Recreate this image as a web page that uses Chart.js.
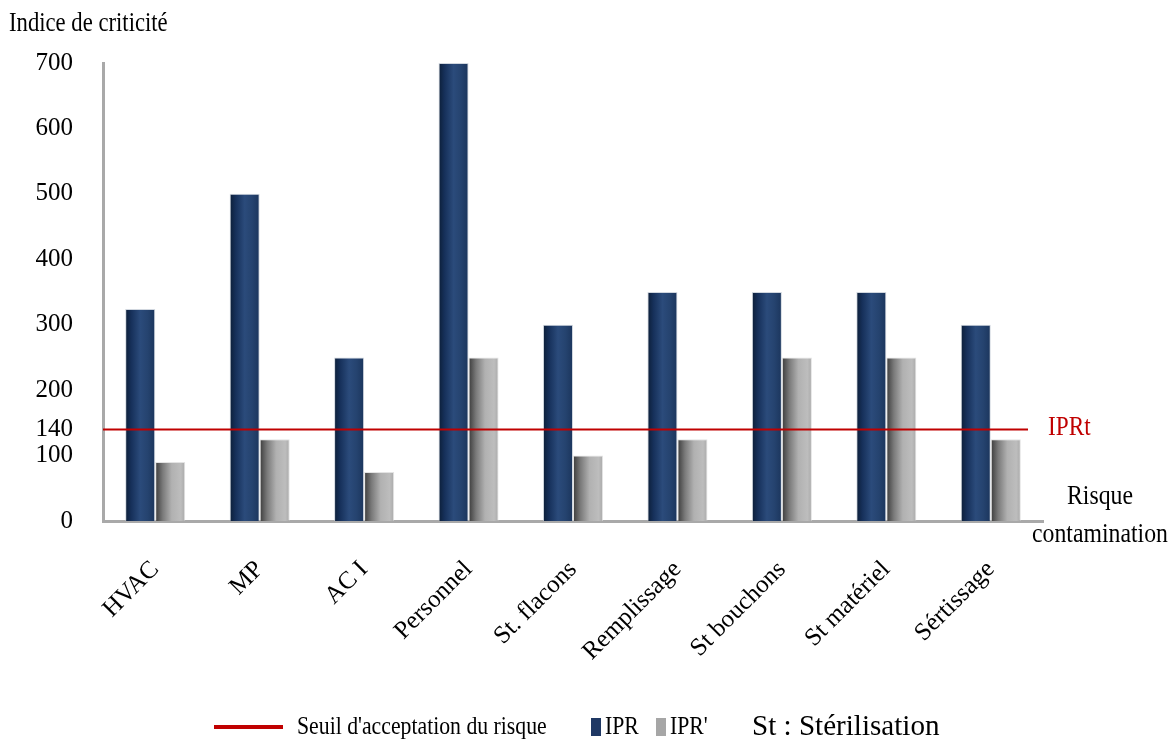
<!DOCTYPE html>
<html>
<head>
<meta charset="utf-8">
<script src="https://cdn.jsdelivr.net/npm/chart.js@4/dist/chart.umd.min.js"></script>
<style>
    html, body { margin: 0; padding: 0; background: #fff; }
    #wrap { width: 1176px; height: 742px; }
</style>
</head>
<body>
<div id="wrap"><canvas id="chart" width="1176" height="742"></canvas></div>
<script>
const categories = ['HVAC', 'MP', 'AC I', 'Personnel', 'St. flacons', 'Remplissage', 'St bouchons', 'St matériel', 'Sértissage'];
const iprValues = [324, 500, 250, 700, 300, 350, 350, 350, 300];
const iprPrimeValues = [90, 125, 75, 250, 100, 125, 250, 250, 125];
const yTicks = [0, 100, 140, 200, 300, 400, 500, 600, 700];
const threshold = 140;

const serif = '"Liberation Serif", "Times New Roman", serif';
const catPct = 0.575;

// horizontal shading across each bar, like the cylinders of the original
function barGradient(context, stops) {
    const chart = context.chart;
    const xs = chart.scales.x;
    if (!xs || context.dataIndex === undefined || !chart.chartArea) return stops[stops.length - 1][1];
    const barW = (xs.width / categories.length) * catPct / 2;
    const left = xs.getPixelForValue(context.dataIndex) - barW + context.datasetIndex * barW;
    const g = chart.ctx.createLinearGradient(left, 0, left + barW, 0);
    stops.forEach(s => g.addColorStop(s[0], s[1]));
    return g;
}

const navyStops = [[0, '#0c1e37'], [0.2, '#16305a'], [0.5, '#2b4b7b'], [0.75, '#25436f'], [1, '#1b355c']];
const grayStops = [[0, '#3a3a3a'], [0.25, '#7a7a7a'], [0.55, '#b1b1b1'], [0.85, '#bdbdbd'], [1, '#a9a9a9']];

// narrow serif text, the original uses a condensed Times
function narrowText(ctx, text, x, y, size, sx, align) {
    ctx.save();
    ctx.font = size + 'px ' + serif;
    ctx.textAlign = align || 'left';
    ctx.textBaseline = 'middle';
    ctx.translate(x, y);
    ctx.scale(sx, 1);
    ctx.fillText(text, 0, 0);
    ctx.restore();
}

const extras = {
    id: 'extras',
    afterDraw(chart) {
        const ctx = chart.ctx;
        const area = chart.chartArea;
        const ys = chart.scales.y;
        ctx.save();

        // threshold line
        const ty = ys.getPixelForValue(threshold);
        ctx.strokeStyle = '#c00000';
        ctx.lineWidth = 2;
        ctx.beginPath();
        ctx.moveTo(area.left, ty);
        ctx.lineTo(area.right - 15, ty);
        ctx.stroke();

        ctx.fillStyle = '#c00000';
        narrowText(ctx, 'IPRt', 1048, ty - 1, 27, 0.86);

        // axis titles
        ctx.fillStyle = '#000';
        narrowText(ctx, 'Indice de criticité', 9, 24, 27, 0.84);
        narrowText(ctx, 'Risque', 1100, 497, 27, 0.88, 'center');
        narrowText(ctx, 'contamination', 1100, 535, 27, 0.88, 'center');

        // legend
        const ly = 727;
        ctx.strokeStyle = '#c00000';
        ctx.lineWidth = 4;
        ctx.beginPath();
        ctx.moveTo(214, ly);
        ctx.lineTo(283, ly);
        ctx.stroke();

        narrowText(ctx, "Seuil d'acceptation du risque", 297, ly, 25, 0.87);

        ctx.fillStyle = '#1f3864';
        ctx.fillRect(591, ly - 9, 10, 18);
        ctx.fillStyle = '#000';
        narrowText(ctx, 'IPR', 605, ly, 25, 0.87);

        ctx.fillStyle = '#a6a6a6';
        ctx.fillRect(656, ly - 9, 10, 18);
        ctx.fillStyle = '#000';
        narrowText(ctx, "IPR'", 670, ly, 25, 0.87);

        narrowText(ctx, 'St : Stérilisation', 752, ly, 30, 0.97);

        ctx.restore();
    }
};

new Chart(document.getElementById('chart'), {
    type: 'bar',
    data: {
        labels: categories,
        datasets: [
            {
                label: 'IPR',
                data: iprValues,
                backgroundColor: ctx => barGradient(ctx, navyStops),
                borderColor: 'rgba(190, 198, 210, 0.7)',
                borderWidth: 1,
                categoryPercentage: catPct,
                barPercentage: 1
            },
            {
                label: "IPR'",
                data: iprPrimeValues,
                backgroundColor: ctx => barGradient(ctx, grayStops),
                borderColor: 'rgba(215, 215, 215, 0.7)',
                borderWidth: 1,
                categoryPercentage: catPct,
                barPercentage: 1
            }
        ]
    },
    options: {
        responsive: false,
        animation: false,
        events: [],
        layout: { padding: { top: 63, right: 133, bottom: 0, left: 0 } },
        plugins: {
            legend: { display: false },
            tooltip: { enabled: false }
        },
        scales: {
            x: {
                grid: { display: false },
                border: { display: true, color: '#a9a9a9', width: 3 },
                ticks: {
                    autoSkip: false,
                    minRotation: 45,
                    maxRotation: 45,
                    padding: 26,
                    color: '#000',
                    font: { family: serif, size: 25 }
                },
                afterFit: s => { s.height = 221; }
            },
            y: {
                min: 0,
                max: 700,
                grid: { display: false },
                border: { display: true, color: '#a9a9a9', width: 3 },
                afterBuildTicks: s => { s.ticks = yTicks.map(v => ({ value: v })); },
                ticks: {
                    padding: 22,
                    color: '#000',
                    font: { family: serif, size: 25 }
                },
                afterFit: s => { s.width = 103; }
            }
        }
    },
    plugins: [extras]
});
</script>
</body>
</html>
